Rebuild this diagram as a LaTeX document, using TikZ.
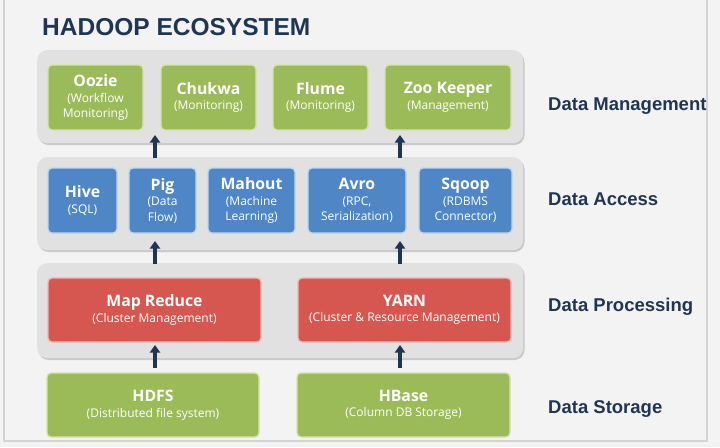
\documentclass[tikz,border=0pt]{standalone}
\usepackage{fontspec}
\setmainfont{Open Sans}
\newfontfamily\arialfont{Liberation Sans}
\usetikzlibrary{arrows.meta,calc}
\definecolor{bgc}{HTML}{F3F3F3}
\definecolor{framec}{HTML}{D4D4D4}
\definecolor{panelc}{HTML}{E1E1E1}
\definecolor{shadowc}{HTML}{C9C9C9}
\definecolor{greenc}{HTML}{9BBB59}
\definecolor{greenb}{HTML}{D4E4AE}
\definecolor{bluec}{HTML}{4F86C6}
\definecolor{blueb}{HTML}{BFD6EE}
\definecolor{redc}{HTML}{D6574F}
\definecolor{redb}{HTML}{F0B9B4}
\definecolor{navyc}{HTML}{1F3652}
\newcommand{\ttl}[1]{{\fontsize{15.8}{17}\selectfont\bfseries #1}}
\begin{document}
\begin{tikzpicture}[x=1pt,y=1pt,
  panel/.style={fill=panelc, rounded corners=10pt, draw=none},
  box/.style={rounded corners=4pt, line width=1.3pt, text=white, align=center,
    inner sep=0pt, font=\fontsize{12}{15.5}\selectfont},
  gbox/.style={box, fill=greenc, draw=greenb},
  bbox/.style={box, fill=bluec, draw=blueb},
  rbox/.style={box, fill=redc, draw=redb},
  lbl/.style={anchor=base west, text=navyc, font=\arialfont\bfseries\fontsize{18.5}{20}\selectfont, inner sep=0pt},
  arr/.style={draw=navyc, line width=3.6pt, -{Triangle[width=10pt,length=7.5pt]}}
]
\useasboundingbox (0,0) rectangle (720,-447);
\fill[bgc] (0,0) rectangle (720,-447);
\draw[framec, line width=1.2pt] (4,2) -- (4,-441) -- (707,-441) -- (707,2);

\node[anchor=base west, text=navyc, font=\arialfont\bfseries\fontsize{24.5}{26}\selectfont, inner sep=0pt] (title) at (42,-35) {HADOOP ECOSYSTEM};

% panels
\foreach \t/\b in {50/143,157/250,263/358}{
  \fill[shadowc, rounded corners=10pt] (38.5,-\t-2) rectangle (524.5,-\b-2);
}
\node[panel, minimum width=486pt, minimum height=93pt, anchor=north west] (p1) at (37,-50) {};
\node[panel, minimum width=486pt, minimum height=93pt, anchor=north west] (p2) at (37,-157) {};
\node[panel, minimum width=486pt, minimum height=95pt, anchor=north west] (p3) at (37,-263) {};

% row 1
\node[gbox, minimum width=95pt, minimum height=65pt] (oozie) at (95.5,-97.5) {\ttl{Oozie}\\(Workflow\\Monitoring)};
\node[gbox, minimum width=95pt, minimum height=65pt] (chukwa) at (208.5,-97.5) {\ttl{Chukwa}\\(Monitoring)};
\node[gbox, minimum width=95pt, minimum height=65pt] (flume) at (320.5,-97.5) {\ttl{Flume}\\(Monitoring)};
\node[gbox, minimum width=126pt, minimum height=65pt] (zoo) at (448,-97.5) {\ttl{Zoo Keeper}\\(Management)};

% row 2
\node[bbox, minimum width=69pt, minimum height=65pt] (hive) at (82.5,-200.5) {\ttl{Hive}\\(SQL)};
\node[bbox, minimum width=67pt, minimum height=65pt] (pig) at (162.5,-200.5) {\ttl{Pig}\\(Data\\Flow)};
\node[bbox, minimum width=87pt, minimum height=65pt] (mahout) at (251.5,-200.5) {\ttl{Mahout}\\(Machine\\Learning)};
\node[bbox, minimum width=98pt, minimum height=65pt] (avro) at (357,-200.5) {\ttl{Avro}\\(RPC,\\Serialization)};
\node[bbox, minimum width=93pt, minimum height=65pt] (sqoop) at (465.5,-200.5) {\ttl{Sqoop}\\(RDBMS\\Connector)};

% row 3
\node[rbox, minimum width=213pt, minimum height=64pt] (mr) at (154.5,-310) {\ttl{Map Reduce}\\(Cluster Management)};
\node[rbox, minimum width=213pt, minimum height=64pt] (yarn) at (404.5,-310) {\ttl{YARN}\\(Cluster \& Resource Management)};

% row 4
\node[gbox, minimum width=212pt, minimum height=64pt] (hdfs) at (153,-405) {\ttl{HDFS}\\(Distributed file system)};
\node[gbox, minimum width=213pt, minimum height=64pt] (hbase) at (403.5,-405) {\ttl{HBase}\\(Column DB Storage)};

% arrows
\coordinate (a1s) at (155,-158); \coordinate (a1e) at (155,-135);
\coordinate (a2s) at (400,-158); \coordinate (a2e) at (400,-135);
\coordinate (a3s) at (155,-264); \coordinate (a3e) at (155,-241);
\coordinate (a4s) at (400,-264); \coordinate (a4e) at (400,-241);
\coordinate (a5s) at (155,-368); \coordinate (a5e) at (155,-345);
\coordinate (a6s) at (400,-368); \coordinate (a6e) at (400,-345);
\draw[arr] (a1s) -- (a1e);
\draw[arr] (a2s) -- (a2e);
\draw[arr] (a3s) -- (a3e);
\draw[arr] (a4s) -- (a4e);
\draw[arr] (a5s) -- (a5e);
\draw[arr] (a6s) -- (a6e);

% labels
\node[lbl] (l1) at (548,-110) {Data Management};
\node[lbl] (l2) at (548,-205) {Data Access};
\node[lbl] (l3) at (548,-311) {Data Processing};
\node[lbl] (l4) at (548,-413) {Data Storage};
\end{tikzpicture}
\end{document}
